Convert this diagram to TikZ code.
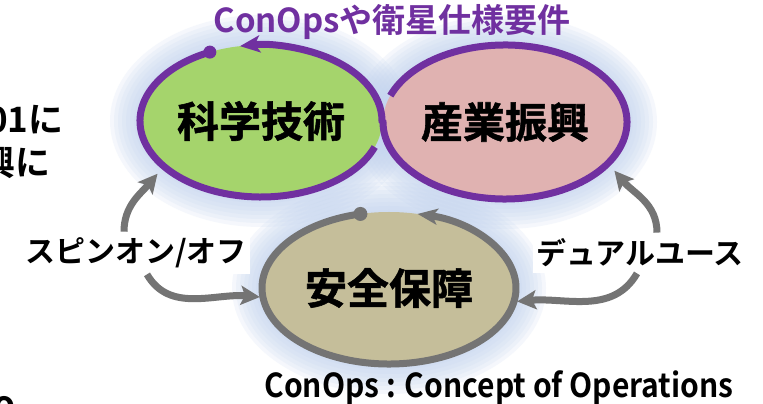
\documentclass[tikz,border=0pt]{standalone}
\usepackage{fontspec}
\setmainfont{Noto Sans CJK JP}[BoldFont={Noto Sans CJK JP Bold}]
\newfontfamily\heavyJp{Noto Sans CJK JP Bold}[FakeBold=1.3]
\usetikzlibrary{arrows.meta,shapes.geometric,calc}
\definecolor{ringPurple}{HTML}{7030A0}
\definecolor{ringGray}{HTML}{747474}
\definecolor{fillScience}{HTML}{A5D46C}
\definecolor{fillIndustry}{HTML}{E0B2B1}
\definecolor{fillSecurity}{HTML}{C5BE9A}
\definecolor{glowBlue}{HTML}{C4D5F0}
\newcommand{\ringWidth}{7pt}
\newcommand{\bigJp}{\heavyJp\fontsize{42}{42}\selectfont}
\newcommand{\sideJp}{\bfseries\fontsize{30}{30}\selectfont}

\begin{document}
\begin{tikzpicture}[x=1pt,y=1pt,
    field/.style={ellipse,inner sep=0pt,outer sep=10pt,font=\bigJp},
    sidelabel/.style={fill=white,inner xsep=3pt,inner ysep=6pt,font=\sideJp},
    grayarrow/.style={draw=ringGray,line width=7pt,-{Stealth[length=19pt,width=19pt,inset=4pt]}}]
  \useasboundingbox (0,0) rectangle (763,404);
  \fill[white] (0,0) rectangle (763,404);

  \coordinate (sciC) at (261,283);
  \coordinate (indC) at (505,282);
  \coordinate (secC) at (389,116);

  % soft glow behind the three fields
  \foreach \g in {30,26,...,2}
  {%
     \fill[glowBlue,opacity=0.17] (sciC) ellipse[x radius=121+\g, y radius=76+\g];
     \fill[glowBlue,opacity=0.17] (indC) ellipse[x radius=122+\g, y radius=77+\g];
     \fill[glowBlue,opacity=0.17] (secC) ellipse[x radius=127+\g, y radius=76+\g];
  }

  \node[field,fill=fillScience,minimum width=242pt,minimum height=152pt] (sci) at (sciC) {科学技術};
  \node[field,fill=fillIndustry,minimum width=244pt,minimum height=154pt] (ind) at (indC) {産業振興};
  \node[field,fill=fillSecurity,outer sep=3pt,minimum width=254pt,minimum height=152pt] (sec) at (secC) {安全保障};

  % purple loop
  \draw[ringPurple,line width=\ringWidth] ($(sciC)+(115:121 and 76)$)
       arc[start angle=115,end angle=340,x radius=121,y radius=76];
  \fill[ringPurple] ($(sciC)+(115:121 and 76)$) circle[radius=6.5];
  \draw[ringPurple,line width=\ringWidth,-{Stealth[length=20pt,width=17pt,inset=5pt]}]
       ($(indC)+(160:122 and 77)$) arc[start angle=160,end angle=-180,x radius=122,y radius=77]
       -- ($(sciC)+(0:121 and 76)$) arc[start angle=0,end angle=100,x radius=121,y radius=76];

  % gray loop
  \draw[ringGray,line width=\ringWidth,-{Stealth[length=20pt,width=16pt,inset=5pt]}]
       ($(secC)+(103:127 and 76)$) arc[start angle=103,end angle=437,x radius=127,y radius=76];
  \fill[ringGray] ($(secC)+(103:127 and 76)$) circle[radius=7];

  \node[text=ringPurple,font=\bfseries\fontsize{33}{33}\selectfont] (req) at (392,382) {ConOpsや衛星仕様要件};
  \node[font=\bfseries\fontsize{33}{33}\selectfont] (note) at (499,16) {\scalebox{0.91}[1]{ConOps : Concept of Operations}};

  \node[sidelabel] (spin) at (136,151) {スピンオン/オフ};
  \node[sidelabel] (dual) at (640,151) {デュアルユース};

  \draw[grayarrow] ([xshift=-12pt]spin.north) to[out=90,in=230] (sci.207);
  \draw[grayarrow] ([xshift=11pt]spin.south) to[out=-60,in=175] (sec.184);
  \draw[grayarrow] ([xshift=17pt]dual.north) to[out=90,in=-50] (ind.-24);
  \draw[grayarrow] ([xshift=-3pt]dual.south) to[out=240,in=5] (sec.-6);

  % text of the neighbouring slide, cut by the left edge
  \node[anchor=east,font=\bfseries\fontsize{35}{35}\selectfont] (frag1) at (67,284) {01に};
  \node[anchor=east,font=\bfseries\fontsize{35}{35}\selectfont] (frag2) at (54,242) {興に};
  \node[anchor=base,inner sep=0pt,font=\bfseries\fontsize{35}{35}\selectfont] (frag3) at (4,-13) {o};
\end{tikzpicture}
\end{document}
